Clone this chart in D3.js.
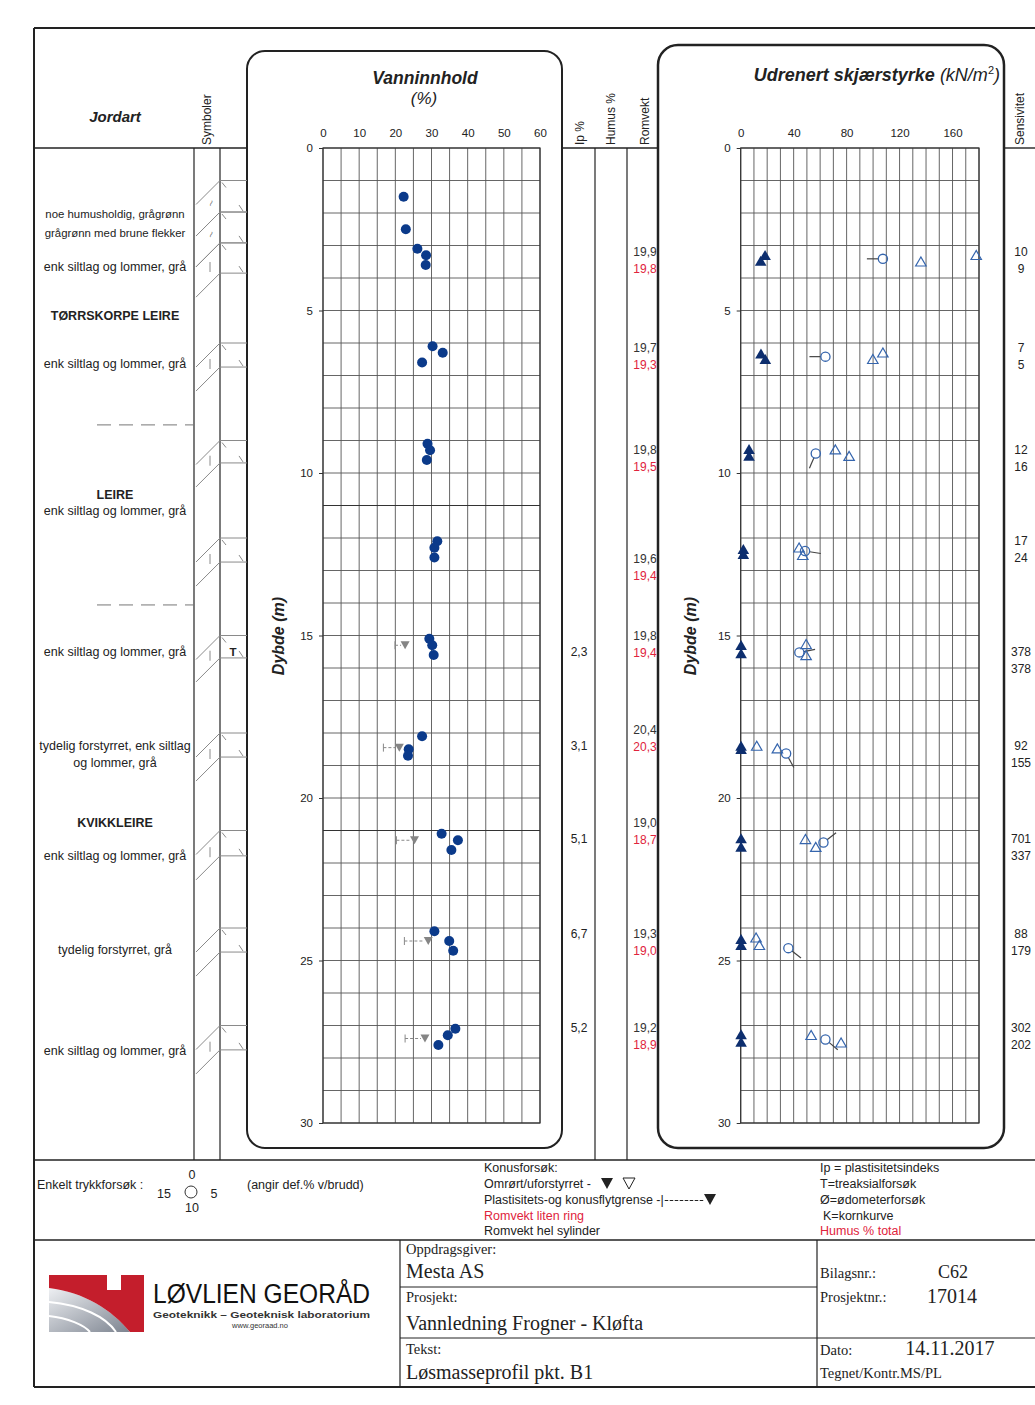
<!DOCTYPE html>
<html><head><meta charset="utf-8">
<script src="https://cdn.jsdelivr.net/npm/d3@7"></script>
<style>body{margin:0;background:#fff}svg{display:block}</style>
</head><body>
<script>
// ---------------- DATA ----------------
const depthTicks = [0, 5, 10, 15, 20, 25, 30];
const waterTicks = [0, 10, 20, 30, 40, 50, 60];
const shearTicks = [0, 40, 80, 120, 160];

// Vanninnhold (water content) points
const waterDepth   = [1.5, 2.5, 3.1, 3.3, 3.6, 6.1, 6.3, 6.6, 9.1, 9.3, 9.6, 12.1, 12.3, 12.6, 15.1, 15.3, 15.6, 18.1, 18.5, 18.7, 21.1, 21.3, 21.6, 24.1, 24.4, 24.7, 27.1, 27.3, 27.6];
const waterContent = [22.3, 22.9, 26.1, 28.5, 28.4, 30.3, 33.1, 27.4, 28.9, 29.6, 28.7, 31.6, 30.8, 30.8, 29.4, 30.2, 30.6, 27.4, 23.7, 23.5, 32.8, 37.3, 35.5, 30.8, 34.9, 36.0, 36.6, 34.5, 31.9];

// Plastic limit / cone liquid limit
const limitDepth   = [15.3, 18.45, 21.3, 24.4, 27.4];
const plasticLimit = [19.9, 16.7, 20.3, 22.5, 22.7];
const liquidLimit  = [22.7, 21.1, 25.3, 29.1, 28.2];

// Ip %
const ipDepth  = [15.5, 18.4, 21.26, 24.18, 27.08];
const ipValues = [2.3, 3.1, 5.1, 6.7, 5.2];

// Romvekt (kN/m3): whole cylinder (black), small ring (red)
const romvektDepth    = [3.2, 6.15, 9.29, 12.65, 15.02, 17.9, 20.77, 24.18, 27.08];
const romvektSylinder = [19.9, 19.7, 19.8, 19.6, 19.8, 20.4, 19.0, 19.3, 19.2];
const romvektRing     = [19.8, 19.3, 19.5, 19.4, 19.4, 20.3, 18.7, 19.0, 18.9];

// Sensitivity
const sensDepth  = [3.2, 6.15, 9.29, 12.1, 15.5, 18.4, 21.26, 24.18, 27.08];
const sensUpper  = [10, 7, 12, 17, 378, 92, 701, 88, 302];
const sensLower  = [9, 5, 16, 24, 378, 155, 337, 179, 202];

// Shear strength: cone remoulded (filled)
const coneRemDepth = [3.32, 3.5, 6.35, 6.52, 9.29, 9.5, 12.37, 12.52, 15.32, 15.58, 18.42, 18.52, 21.27, 21.53, 24.37, 24.55, 27.3, 27.53];
const coneRemSu    = [18.4, 15.1, 15.3, 18.6, 6.3, 6.3, 2.0, 2.0, 0.3, 0.3, 0.3, 0.3, 0.3, 0.3, 0.3, 0.3, 0.3, 0.3];
// cone undisturbed (open)
const coneUndDepth = [3.52, 3.32, 6.52, 6.32, 9.3, 9.5, 12.32, 12.55, 15.29, 15.63, 18.42, 18.5, 21.29, 21.53, 24.32, 24.55, 27.32, 27.55];
const coneUndSu    = [136.1, 177.9, 99.8, 107.4, 71.5, 81.9, 44.1, 46.9, 49.4, 49.4, 12.1, 27.7, 48.9, 56.7, 11.6, 14.1, 53.2, 75.8];
// unconfined compression (circle, strain % at failure)
const compDepth  = [3.41, 6.42, 9.4, 12.4, 15.52, 18.63, 21.37, 24.62, 27.43];
const compSu     = [107.4, 64.0, 56.7, 48.6, 44.3, 34.3, 62.5, 36.0, 64.0];
const compStrain = [15, 15, 11.3, 5.5, 4.4, 8.4, 2.9, 7.1, 7.2];

// Soil description column
const soilLabels = ["noe humusholdig, grågrønn", "grågrønn med brune flekker", "enk siltlag og lommer, grå", "TØRRSKORPE LEIRE", "enk siltlag og lommer, grå", "LEIRE", "enk siltlag og lommer, grå", "enk siltlag og lommer, grå", "tydelig forstyrret, enk siltlag", "og lommer, grå", "KVIKKLEIRE", "enk siltlag og lommer, grå", "tydelig forstyrret, grå", "enk siltlag og lommer, grå"];
const soilLabelDepth = [2.03, 2.62, 3.66, 5.17, 6.62, 10.65, 11.17, 15.5, 18.4, 18.9, 20.77, 21.78, 24.68, 27.78];
const layerBoundaries = [8.52, 14.06];

// Samples (symbol column)
const sampleTop    = [1.0, 1.97, 2.92, 6.0, 9.0, 12.0, 15.0, 18.0, 21.0, 24.0, 27.0];
const sampleBottom = [1.97, 2.92, 3.85, 6.74, 9.69, 12.74, 15.69, 18.74, 21.78, 24.74, 27.75];
const sampleSymbol = ["~", "~", "|", "|", "|", "|", "|", "|", "|", "", "|"];
const sampleTest   = ["", "", "", "", "", "", "T", "", "", "", ""];

// ---------------- DRAWING ----------------
const SANS = '"Liberation Sans", Arial, Helvetica, sans-serif';
const SERIF = '"Liberation Serif", "Times New Roman", serif';
const W = 1035, H = 1405;
const svg = d3.select("body").append("svg").attr("width", W).attr("height", H);
svg.append("rect").attr("width", W).attr("height", H).attr("fill", "#fff");

const y  = d3.scaleLinear().domain([0, 30]).range([148, 1123]);
const xw = d3.scaleLinear().domain([0, 60]).range([323, 540]);
const xs = d3.scaleLinear().domain([0, 180]).range([740.7, 979]);
const fmt = v => d3.format(".1f")(v).replace(".", ",");

function ln(g, x1, y1, x2, y2, stroke = "#222", w = 1, dash = null) {
  const l = g.append("line").attr("x1", x1).attr("y1", y1).attr("x2", x2).attr("y2", y2)
    .attr("stroke", stroke).attr("stroke-width", w);
  if (dash) l.attr("stroke-dasharray", dash);
  return l;
}
function tx(g, x, yy, s, o = {}) {
  const t = g.append("text").attr("x", x).attr("y", yy)
    .attr("dy", o.dy ?? "0.35em").attr("text-anchor", o.anchor || "start")
    .attr("font-size", o.size || 11).attr("font-family", o.family || SANS)
    .attr("fill", o.fill || "#222");
  if (o.weight) t.attr("font-weight", o.weight);
  if (o.style) t.attr("font-style", o.style);
  if (o.rotate) t.attr("transform", `rotate(${o.rotate},${x},${yy})`);
  if (o.len) t.attr("textLength", o.len).attr("lengthAdjust", "spacingAndGlyphs");
  t.text(s);
  return t;
}

const frame = svg.append("g");
// outer frame
ln(frame, 34, 28, 1035, 28, "#222", 2);
ln(frame, 34, 28, 34, 1387, "#222", 2);
ln(frame, 34, 1387, 1035, 1387, "#222", 2);
// header line segments
ln(frame, 34, 148, 247, 148, "#222", 1.4);
ln(frame, 562, 148, 658, 148, "#222", 1.4);
ln(frame, 1004, 148, 1035, 148, "#222", 1.4);
// column lines
[194, 220].forEach(x => ln(frame, x, 148, x, 1160, "#222", 1.2));
[595, 627].forEach(x => ln(frame, x, 148, x, 1160, "#222", 1.2));
// legend and title block lines
ln(frame, 34, 1160, 1035, 1160, "#222", 1.6);
ln(frame, 34, 1240, 1035, 1240, "#222", 1.6);
ln(frame, 400, 1240, 400, 1387, "#222", 1.2);
ln(frame, 817, 1240, 817, 1387, "#222", 1.2);
ln(frame, 400, 1287, 817, 1287, "#222", 1);
ln(frame, 400, 1338, 1035, 1338, "#222", 1);

// panels
svg.append("rect").attr("x", 247).attr("y", 51).attr("width", 315).attr("height", 1097).attr("rx", 18)
  .attr("fill", "none").attr("stroke", "#222").attr("stroke-width", 2);
svg.append("rect").attr("x", 658).attr("y", 45).attr("width", 346).attr("height", 1103).attr("rx", 20)
  .attr("fill", "none").attr("stroke", "#222").attr("stroke-width", 2.5);

// headers
const hd = svg.append("g");
tx(hd, 115, 117, "Jordart", {anchor: "middle", size: 15, weight: "bold", style: "italic"});
tx(hd, 207, 145, "Symboler", {anchor: "start", size: 12, rotate: -90});
tx(hd, 425, 78, "Vanninnhold", {anchor: "middle", size: 17.5, weight: "bold", style: "italic"});
tx(hd, 424, 98, "(%)", {anchor: "middle", size: 17, style: "italic"});
tx(hd, 580, 145, "Ip %", {anchor: "start", size: 12, rotate: -90});
tx(hd, 611, 145, "Humus %", {anchor: "start", size: 12, rotate: -90});
tx(hd, 645, 145, "Romvekt", {anchor: "start", size: 12, rotate: -90});
tx(hd, 1020, 145, "Sensivitet", {anchor: "start", size: 12, rotate: -90});
const sh = hd.append("text").attr("x", 1000).attr("y", 75).attr("dy", "0.35em").attr("text-anchor", "end")
  .attr("font-family", SANS).attr("font-size", 18).attr("fill", "#222");
sh.append("tspan").attr("font-weight", "bold").attr("font-style", "italic").text("Udrenert skjærstyrke ");
sh.append("tspan").attr("font-style", "italic").text("(kN/m");
sh.append("tspan").attr("font-size", 11).attr("dy", -7).text("2");
sh.append("tspan").attr("dy", 7).attr("font-style", "italic").text(")");
tx(hd, 278, 636, "Dybde (m)", {anchor: "middle", size: 16, weight: "bold", style: "italic", rotate: -90});
tx(hd, 690, 636, "Dybde (m)", {anchor: "middle", size: 16, weight: "bold", style: "italic", rotate: -90});

// ---------- water content grid ----------
const gw = svg.append("g");
gw.selectAll("line.v").data(d3.range(0, 61, 5)).join("line").attr("class", "v")
  .attr("x1", d => xw(d)).attr("x2", d => xw(d)).attr("y1", y(0)).attr("y2", y(30))
  .attr("stroke", "#555").attr("stroke-width", 0.9);
gw.selectAll("line.h").data(d3.range(0, 31, 1)).join("line").attr("class", "h")
  .attr("x1", xw(0)).attr("x2", xw(60)).attr("y1", d => y(d)).attr("y2", d => y(d))
  .attr("stroke", d => (d === 11 || d === 21) ? "#333" : "#555").attr("stroke-width", d => (d === 11 || d === 21) ? 1.2 : 0.9);
gw.append("rect").attr("x", xw(0)).attr("y", y(0)).attr("width", xw(60) - xw(0)).attr("height", y(30) - y(0))
  .attr("fill", "none").attr("stroke", "#333").attr("stroke-width", 1.2);

function styleAxis(g) {
  g.select(".domain").remove();
  g.selectAll("text").attr("font-size", 11.5).attr("font-family", SANS).attr("fill", "#222");
  g.selectAll("line").attr("stroke", "#333");
}
svg.append("g").attr("transform", `translate(0,${y(0)})`)
  .call(d3.axisTop(xw).tickValues(waterTicks).tickSize(0).tickPadding(11)).call(styleAxis);
svg.append("g").attr("transform", `translate(${xw(0)},0)`)
  .call(d3.axisLeft(y).tickValues(depthTicks).tickSize(4).tickPadding(6)).call(styleAxis);

// limits
const gl = svg.append("g");
limitDepth.forEach((d, i) => {
  const yy = y(d), x1 = xw(plasticLimit[i]), x2 = xw(liquidLimit[i]);
  ln(gl, x1, yy - 4, x1, yy + 4, "#888", 1);
  ln(gl, x1, yy, x2 - 4, yy, "#888", 1, "3,2");
  gl.append("path").attr("d", `M${x2 - 4.5},${yy - 4}L${x2 + 4.5},${yy - 4}L${x2},${yy + 4}Z`).attr("fill", "#858585");
});
// water content dots
svg.append("g").selectAll("circle").data(waterDepth).join("circle")
  .attr("cx", (d, i) => xw(waterContent[i])).attr("cy", d => y(d)).attr("r", 5).attr("fill", "#0b3a8a");

// ---------- Ip, Romvekt, Sensitivity ----------
const gc = svg.append("g");
ipDepth.forEach((d, i) => tx(gc, 579, y(d), fmt(ipValues[i]), {anchor: "middle", size: 12}));
romvektDepth.forEach((d, i) => {
  tx(gc, 645, y(d), fmt(romvektSylinder[i]), {anchor: "middle", size: 12, fill: "#333"});
  tx(gc, 645, y(d) + 17, fmt(romvektRing[i]), {anchor: "middle", size: 12, fill: "#e0233c"});
});
sensDepth.forEach((d, i) => {
  tx(gc, 1021, y(d), sensUpper[i], {anchor: "middle", size: 12});
  tx(gc, 1021, y(d) + 17, sensLower[i], {anchor: "middle", size: 12});
});

// ---------- shear grid ----------
const gs = svg.append("g");
gs.selectAll("line.v").data(d3.range(0, 181, 10)).join("line").attr("class", "v")
  .attr("x1", d => xs(d)).attr("x2", d => xs(d)).attr("y1", y(0)).attr("y2", y(30))
  .attr("stroke", "#555").attr("stroke-width", 0.9);
gs.selectAll("line.h").data(d3.range(0, 31, 1)).join("line").attr("class", "h")
  .attr("x1", xs(0)).attr("x2", xs(180)).attr("y1", d => y(d)).attr("y2", d => y(d))
  .attr("stroke", "#555").attr("stroke-width", 0.9);
gs.append("rect").attr("x", xs(0)).attr("y", y(0)).attr("width", xs(180) - xs(0)).attr("height", y(30) - y(0))
  .attr("fill", "none").attr("stroke", "#333").attr("stroke-width", 1.2);
svg.append("g").attr("transform", `translate(0,${y(0)})`)
  .call(d3.axisTop(xs).tickValues(shearTicks).tickSize(0).tickPadding(11)).call(styleAxis);
svg.append("g").attr("transform", `translate(${xs(0)},0)`)
  .call(d3.axisLeft(y).tickValues(depthTicks).tickSize(4).tickPadding(6)).call(styleAxis);

const tri = (x, yy, h) => `M${x},${yy - h * 0.6}L${x - h * 0.58},${yy + h * 0.4}L${x + h * 0.58},${yy + h * 0.4}Z`;
const gsym = svg.append("g");
// strain lines + circles
compDepth.forEach((d, i) => {
  const cx = xs(compSu[i]), cy = y(d), a = compStrain[i] / 20 * 2 * Math.PI;
  const r = 4.6, L = 16;
  ln(gsym, cx + Math.sin(a) * r, cy - Math.cos(a) * r, cx + Math.sin(a) * L, cy - Math.cos(a) * L, "#444", 1.2);
  gsym.append("circle").attr("cx", cx).attr("cy", cy).attr("r", r).attr("fill", "none").attr("stroke", "#3565ad").attr("stroke-width", 1.3);
});
coneUndDepth.forEach((d, i) => {
  gsym.append("path").attr("d", tri(xs(coneUndSu[i]), y(d), 9)).attr("fill", "none").attr("stroke", "#3565ad").attr("stroke-width", 1.2);
});
coneRemDepth.forEach((d, i) => {
  gsym.append("path").attr("d", tri(xs(coneRemSu[i]), y(d), 10)).attr("fill", "#0d2e6e");
});

// ---------- soil column ----------
const gsoil = svg.append("g");
soilLabels.forEach((s, i) => {
  const bold = s === s.toUpperCase();
  const size = bold ? 12.5 : (i < 2 ? 11.4 : 12.5);
  tx(gsoil, 115, y(soilLabelDepth[i]), s, {anchor: "middle", size, weight: bold ? "bold" : null});
});
layerBoundaries.forEach(d => ln(gsoil, 97, y(d), 194, y(d), "#777", 1, "14,8"));
sampleTop.forEach((d, i) => {
  const yt = y(d), yb = y(sampleBottom[i]);
  [yt, yb].forEach(v => {
    ln(gsoil, 220, v, 247, v, "#8a8a8a", 1);
    ln(gsoil, 220, v, 196, v + 24, "#8a8a8a", 1);
  });
  ln(gsoil, 222, yt + 2, 226, yt + 7, "#8a8a8a", 1);
  ln(gsoil, 239, yb - 7, 243, yb - 1, "#8a8a8a", 1);
  const ym = (yt + yb) / 2 + 9;
  if (sampleSymbol[i] === "|") ln(gsoil, 210, ym - 5, 210, ym + 5, "#8a8a8a", 1);
  if (sampleSymbol[i] === "~") tx(gsoil, 211, ym - 2, "~", {anchor: "middle", size: 11, fill: "#777", rotate: -70});
  if (sampleTest[i]) tx(gsoil, 233, (yt + yb) / 2 + 5, sampleTest[i], {anchor: "middle", size: 11.5, weight: "bold"});
});

// ---------- legend ----------
const lg = svg.append("g");
const LS = 12.5;
tx(lg, 37, 1185, "Enkelt trykkforsøk :", {size: LS});
tx(lg, 192, 1175, "0", {anchor: "middle", size: LS});
tx(lg, 164, 1194, "15", {anchor: "middle", size: LS});
tx(lg, 214, 1194, "5", {anchor: "middle", size: LS});
tx(lg, 192, 1208, "10", {anchor: "middle", size: LS});
lg.append("circle").attr("cx", 191).attr("cy", 1192).attr("r", 6).attr("fill", "none").attr("stroke", "#333").attr("stroke-width", 1);
tx(lg, 247, 1185, "(angir def.% v/brudd)", {size: LS});
tx(lg, 484, 1168, "Konusforsøk:", {size: LS});
tx(lg, 484, 1184, "Omrørt/uforstyrret -", {size: LS});
lg.append("path").attr("d", "M601,1178L613,1178L607,1189Z").attr("fill", "#222");
lg.append("path").attr("d", "M623,1178L635,1178L629,1189Z").attr("fill", "none").attr("stroke", "#222");
const pl = tx(lg, 484, 1200, "Plastisitets-og konusflytgrense -|", {size: LS});
const plEnd = 484 + pl.node().getComputedTextLength();
ln(lg, plEnd + 1, 1200.5, 704, 1200.5, "#222", 1, "3.5,1.5");
lg.append("path").attr("d", "M704,1194L716,1194L710,1205Z").attr("fill", "#222");
tx(lg, 484, 1216, "Romvekt liten ring", {size: LS, fill: "#e0233c"});
tx(lg, 484, 1231, "Romvekt hel sylinder", {size: LS});
tx(lg, 820, 1168, "Ip = plastisitetsindeks", {size: LS});
tx(lg, 820, 1184, "T=treaksialforsøk", {size: LS});
tx(lg, 820, 1200, "Ø=ødometerforsøk", {size: LS});
tx(lg, 823, 1216, "K=kornkurve", {size: LS});
tx(lg, 820, 1231, "Humus % total", {size: LS, fill: "#e0233c"});

// ---------- title block ----------
const tb = svg.append("g");
tx(tb, 406, 1249, "Oppdragsgiver:", {size: 14.5, family: SERIF});
tx(tb, 406, 1271, "Mesta AS", {size: 20, family: SERIF});
tx(tb, 406, 1297, "Prosjekt:", {size: 14.5, family: SERIF});
tx(tb, 406, 1323, "Vannledning Frogner - Kløfta", {size: 20, family: SERIF});
tx(tb, 406, 1349, "Tekst:", {size: 14.5, family: SERIF});
tx(tb, 406, 1372, "Løsmasseprofil pkt. B1", {size: 20, family: SERIF});
tx(tb, 820, 1273, "Bilagsnr.:", {size: 14.5, family: SERIF});
tx(tb, 953, 1272, "C62", {anchor: "middle", size: 18, family: SERIF});
tx(tb, 820, 1297, "Prosjektnr.:", {size: 14.5, family: SERIF});
tx(tb, 952, 1296, "17014", {anchor: "middle", size: 20, family: SERIF});
tx(tb, 820, 1350, "Dato:", {size: 14.5, family: SERIF});
tx(tb, 950, 1348, "14.11.2017", {anchor: "middle", size: 20, family: SERIF});
tx(tb, 820, 1373, "Tegnet/Kontr.MS/PL", {size: 14.5, family: SERIF});

// logo
const defs = svg.append("defs");
const grad = defs.append("linearGradient").attr("id", "lgGrey").attr("x1", 0).attr("y1", 0).attr("x2", 1).attr("y2", 1);
grad.append("stop").attr("offset", "0%").attr("stop-color", "#eef0f3");
grad.append("stop").attr("offset", "100%").attr("stop-color", "#7d8490");
const logo = svg.append("g");
logo.append("path").attr("d", "M49,1288C84,1292 112,1310 130,1332H49Z").attr("fill", "url(#lgGrey)");
logo.append("path").attr("d", "M49,1275H107V1290H121V1275H144V1332H130C112,1310 84,1292 49,1288Z").attr("fill", "#c41e2c");
logo.append("path").attr("d", "M49,1302C82,1305 106,1317 116,1332").attr("fill", "none").attr("stroke", "#fff").attr("stroke-width", 2);
logo.append("path").attr("d", "M49,1316C68,1318 84,1325 90,1332").attr("fill", "none").attr("stroke", "#fff").attr("stroke-width", 2);
tx(logo, 153, 1303, "LØVLIEN GEORÅD", {size: 27, len: 217, fill: "#111", dy: "0"});
tx(logo, 153, 1318, "Geoteknikk – Geoteknisk laboratorium", {size: 9.5, weight: "bold", len: 217, fill: "#333", dy: "0"});
tx(logo, 260, 1328, "www.georaad.no", {size: 7.5, anchor: "middle", fill: "#333", dy: "0"});
</script>
</body></html>
